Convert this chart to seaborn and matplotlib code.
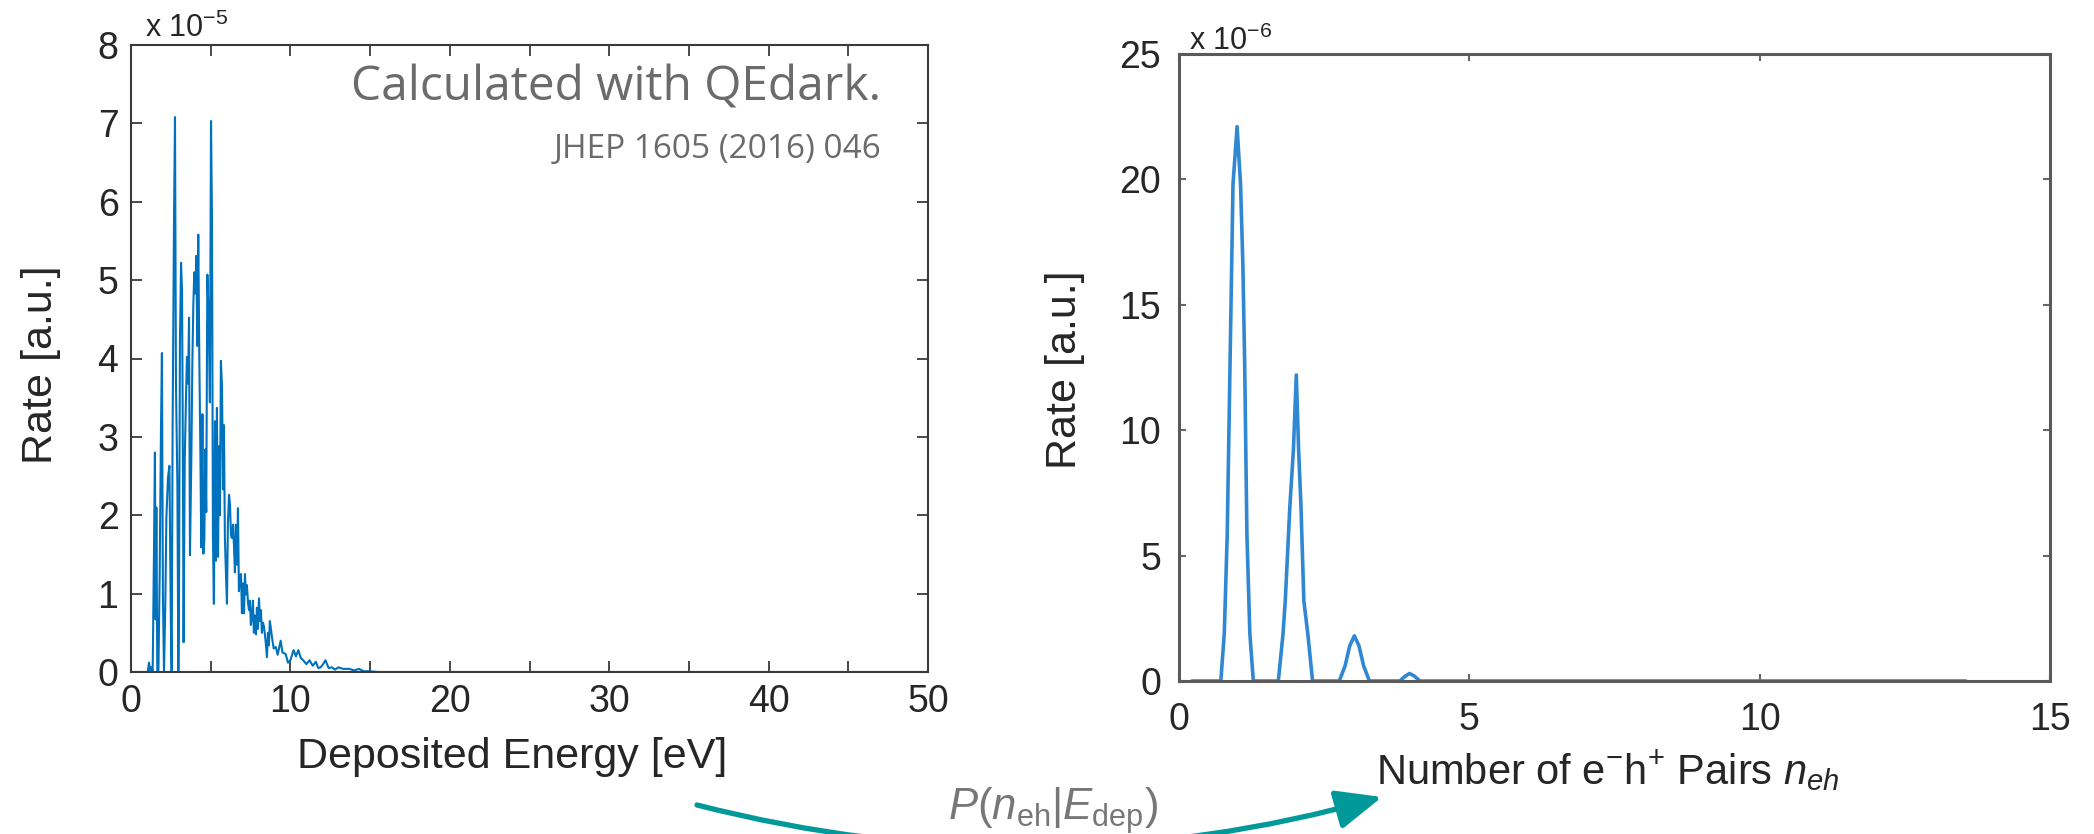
import matplotlib
matplotlib.use("Agg")
import matplotlib.pyplot as plt
import seaborn as sns
import pandas as pd
from matplotlib.patches import FancyArrowPatch

# deposited-energy spectrum (rate in units of 1e-5)
energy = [0.0, 1.05, 1.13, 1.20, 1.28, 1.36, 1.44, 1.50, 1.55, 1.59, 1.65, 1.72, 1.80, 1.88,
          1.94, 2.00, 2.07, 2.15, 2.22, 2.32, 2.41, 2.50, 2.55, 2.61, 2.70, 2.76, 2.82, 2.91,
          2.97, 3.01, 3.07, 3.14, 3.20, 3.24, 3.30, 3.37, 3.45, 3.51, 3.58, 3.64, 3.70, 3.79,
          3.85, 3.91, 3.97, 4.04, 4.10, 4.16, 4.22, 4.29, 4.35, 4.41, 4.48, 4.54, 4.60, 4.66,
          4.72, 4.79, 4.87, 4.95, 5.02, 5.08, 5.14, 5.20, 5.27, 5.33, 5.39, 5.46, 5.52, 5.58,
          5.64, 5.71, 5.77, 5.83, 5.89, 5.96, 6.02, 6.08, 6.15, 6.21, 6.27, 6.33, 6.40, 6.46,
          6.52, 6.58, 6.65, 6.71, 6.77, 6.83, 6.90, 6.96, 7.02, 7.09, 7.15, 7.21, 7.27, 7.34,
          7.40, 7.46, 7.52, 7.59, 7.65, 7.71, 7.77, 7.84, 7.90, 7.96, 8.03, 8.09, 8.15, 8.21,
          8.28, 8.34, 8.40, 8.46, 8.53, 8.59, 8.65, 8.71, 8.78, 8.84, 8.95, 9.08, 9.20, 9.39,
          9.50, 9.70, 9.85, 10.0, 10.2, 10.35, 10.5, 10.65, 10.8, 11.0, 11.2, 11.4, 11.6, 11.75,
          11.9, 12.05, 12.2, 12.4, 12.6, 12.8, 13.0, 13.3, 13.7, 14.0, 14.3, 14.6, 14.9, 15.5, 50.0]
rate_e = [0, 0, 0.12, 0.02, 0.06, 0, 1.5, 2.8, 0.67, 2.1, 0, 0, 1.27, 3.08,
          4.07, 1.0, 0, 0.84, 1.97, 2.48, 2.63, 0.65, 0, 3.1, 5.83, 7.08, 3.68, 2.4,
          0, 0.82, 4.2, 5.22, 4.88, 3.39, 0.38, 2.69, 3.5, 4.02, 3.68, 4.52, 1.49, 2.81,
          3.96, 4.69, 5.1, 4.83, 5.31, 4.16, 5.58, 3.92, 2.86, 1.59, 3.29, 1.51, 1.68, 2.84,
          2.04, 5.07, 4.57, 3.44, 7.03, 5.79, 1.73, 0.87, 3.2, 1.42, 3.37, 1.47, 2.88, 2.0,
          3.97, 3.63, 2.33, 3.15, 1.71, 1.23, 0.87, 1.9, 2.26, 2.14, 1.75, 1.71, 1.88, 1.61,
          1.27, 1.88, 1.37, 2.09, 1.03, 1.2, 1.25, 0.75, 1.13, 0.75, 1.25, 0.99, 1.11, 0.89,
          0.79, 0.91, 0.6, 0.72, 0.91, 0.5, 0.72, 0.48, 0.82, 0.55, 0.94, 0.65, 0.79, 0.5,
          0.63, 0.58, 0.48, 0.36, 0.19, 0.5, 0.34, 0.65, 0.55, 0.45, 0.3, 0.32, 0.22, 0.4,
          0.25, 0.23, 0.12, 0.15, 0.28, 0.2, 0.28, 0.18, 0.15, 0.1, 0.15, 0.08, 0.13, 0.05,
          0.06, 0.1, 0.15, 0.05, 0.06, 0.03, 0.06, 0.04, 0.04, 0.02, 0.04, 0.01, 0.01, 0.0, 0.0]

# electron-hole pair distribution (rate in units of 1e-6)
n_eh = [0.22, 0.72, 0.78, 0.83, 0.88, 0.93, 1.00, 1.06, 1.10, 1.13, 1.17, 1.22, 1.28,
        1.71, 1.79, 1.83, 1.91, 1.97, 2.02, 2.06, 2.10, 2.15, 2.22, 2.30,
        2.76, 2.86, 2.94, 3.02, 3.10, 3.18, 3.28,
        3.80, 3.90, 3.97, 4.05, 4.15, 13.55]
rate_n = [0, 0, 1.9, 5.8, 12.8, 19.8, 22.1, 19.8, 16.6, 12.8, 5.8, 1.9, 0,
          0, 1.84, 3.2, 7.0, 9.2, 12.2, 9.2, 7.0, 3.2, 1.84, 0,
          0, 0.6, 1.4, 1.8, 1.4, 0.6, 0,
          0, 0.2, 0.3, 0.2, 0, 0]

left_df = pd.DataFrame({"E": energy, "rate": rate_e})
right_df = pd.DataFrame({"n": n_eh, "rate": rate_n})

sns.set_style("ticks")
plt.rcParams["font.family"] = ["Liberation Sans", "DejaVu Sans"]
plt.rcParams["mathtext.fontset"] = "custom"
plt.rcParams["mathtext.rm"] = "Liberation Sans"
plt.rcParams["mathtext.it"] = "Liberation Sans:italic"

W, H = 2094, 834
fig = plt.figure(figsize=(W / 100, H / 100), dpi=100)

def frac(x0, y_top, x1, y_bot):
    return [x0 / W, 1 - y_bot / H, (x1 - x0) / W, (y_bot - y_top) / H]

tick_fs = 27
label_fs = 31

# ---- left panel
ax1 = fig.add_axes(frac(131, 45, 928, 672))
sns.lineplot(data=left_df, x="E", y="rate", ax=ax1, color="#0072BD", lw=1.5,
             estimator=None, sort=False)
ax1.set_xlim(0, 50)
ax1.set_ylim(0, 8)
ax1.set_xticks([0, 10, 20, 30, 40, 50])
ax1.set_xticks([5, 15, 25, 35, 45], minor=True)
ax1.set_yticks(range(0, 9))
for s in ax1.spines.values():
    s.set_visible(True)
    s.set_color("#3a3a3a")
    s.set_linewidth(1.5)
ax1.tick_params(which="both", direction="in", top=True, right=True, length=8,
                width=1.3, color="#3a3a3a")
ax1.tick_params(axis="y", labelsize=tick_fs, pad=9)
ax1.tick_params(axis="x", labelsize=tick_fs, pad=9)
ax1.set_xlabel("Deposited Energy [eV]", fontsize=label_fs)
ax1.set_ylabel("Rate [a.u.]", fontsize=label_fs)
ax1.xaxis.set_label_coords(0.478, -0.103)
ax1.yaxis.set_label_coords(-0.088, 0.49)

fig.text(145 / W, 1 - 37 / H, r"x 10$^{-5}$", fontsize=22, va="baseline", ha="left")
fig.text(881 / W, 1 - 64 / H, "Calculated with QEdark.", fontsize=34.5, color="#6b6b6b",
         family="Open Sans", ha="right", va="top")
fig.text(881 / W, 1 - 133 / H, "JHEP 1605 (2016) 046", fontsize=24, color="#6b6b6b",
         family="Open Sans", ha="right", va="top")

# ---- right panel
ax2 = fig.add_axes(frac(1179, 54, 2050, 681))
sns.lineplot(data=right_df, x="n", y="rate", ax=ax2, color="#3088d2", lw=2.6,
             estimator=None, sort=False)
ax2.set_xlim(0, 15)
ax2.set_ylim(0, 25)
ax2.set_xticks([0, 5, 10, 15])
ax2.set_yticks([0, 5, 10, 15, 20, 25])
for s in ax2.spines.values():
    s.set_visible(True)
    s.set_color("#5a5a5a")
    s.set_linewidth(2.2)
ax2.tick_params(direction="in", top=True, right=True, length=5, width=1.5, color="#666666")
ax2.tick_params(axis="y", labelsize=tick_fs, pad=13)
ax2.tick_params(axis="x", labelsize=tick_fs, pad=15)
ax2.set_xlabel(r"Number of e$^{-}$h$^{+}$ Pairs $n_{eh}$", fontsize=30)
ax2.set_ylabel("Rate [a.u.]", fontsize=label_fs)
ax2.xaxis.set_label_coords(0.4925, -0.108)
ax2.yaxis.set_label_coords(-0.108, 0.496)

fig.text(1189 / W, 1 - 50 / H, r"x 10$^{-6}$", fontsize=22, va="baseline", ha="left")

# ---- connecting arrow with conditional probability
arrow = FancyArrowPatch((697 / W, 1 - 805 / H), (1382 / W, 1 - 797 / H),
                        transform=fig.transFigure, connectionstyle="arc3,rad=0.134",
                        arrowstyle="-|>,head_length=1.4,head_width=0.6", mutation_scale=20,
                        color="#00999a", lw=3.8, shrinkA=0, shrinkB=0, clip_on=False)
fig.patches.append(arrow)
fig.text(1053 / W, 1 - 811 / H, r"$P(n_{\mathrm{eh}}|E_{\mathrm{dep}})$", fontsize=31.5,
         color="#777777", ha="center", va="center")

fig.savefig("out.png", dpi=100)
